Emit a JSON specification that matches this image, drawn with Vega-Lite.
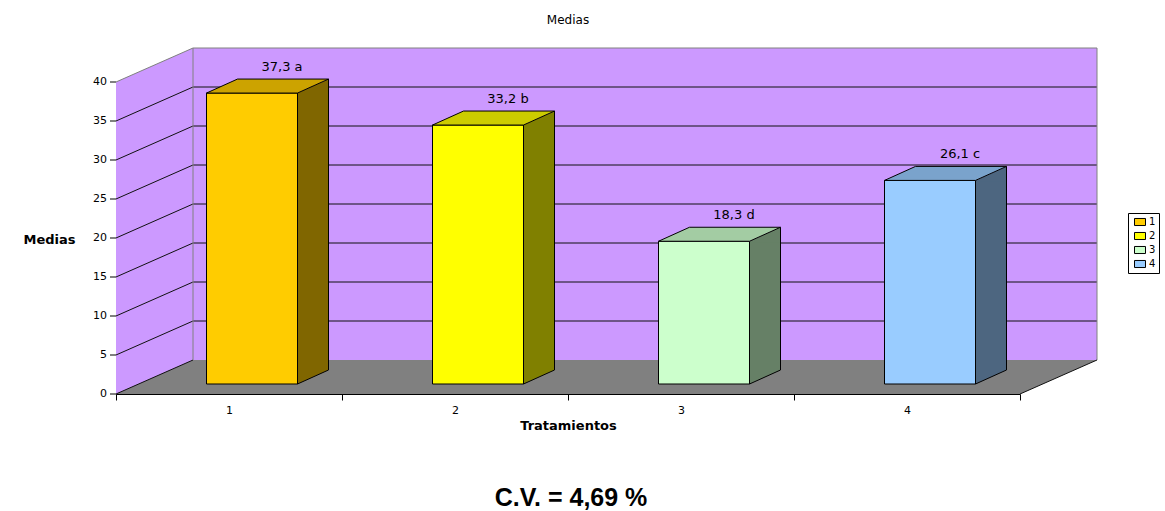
{
  "$schema": "https://vega.github.io/schema/vega-lite/v6.json",
  "width": 904,
  "height": 312,
  "autosize": {"type": "none"},
  "padding": {"left": 116, "top": 82, "right": 145, "bottom": 117},
  "background": "white",
  "title": {"text": "Medias", "font": "DejaVu Sans", "fontSize": 12, "fontWeight": "normal", "color": "black", "anchor": "middle", "frame": "group", "offset": 21},
  "datasets": {
    "medias": [
      {"Tratamiento": 1, "Media": 37.3, "Letra": "a"},
      {"Tratamiento": 2, "Media": 33.2, "Letra": "b"},
      {"Tratamiento": 3, "Media": 18.3, "Letra": "d"},
      {"Tratamiento": 4, "Media": 26.1, "Letra": "c"}
    ],
    "niveles": [
      {"nivel": 0}, {"nivel": 5}, {"nivel": 10}, {"nivel": 15},
      {"nivel": 20}, {"nivel": 25}, {"nivel": 30}, {"nivel": 35}, {"nivel": 40}
    ],
    "marco": [{"cv": "C.V. = 4,69 %"}]
  },
  "layer": [
    {
      "description": "left wall; also carries both axes",
      "data": {"name": "marco"},
      "mark": {"type": "rect", "fill": "#CC99FF", "x2Offset": 77},
      "encoding": {
        "x": {
          "datum": 0.5, "type": "quantitative",
          "scale": {"domain": [0.5, 4.5], "zero": false, "nice": false, "padding": 0},
          "axis": {
            "title": "Tratamientos",
            "values": [0.5, 1.5, 2.5, 3.5, 4.5],
            "labelExpr": "datum.value < 4 ? format(datum.value + 0.5, 'd') : ''",
            "labelOffset": 113, "labelFlush": false, "labelOverlap": false, "labelBound": false,
            "tickSize": 6, "labelPadding": 4, "titlePadding": 4, "grid": false
          }
        },
        "x2": {"datum": 0.5},
        "y": {
          "datum": 0, "type": "quantitative",
          "scale": {"domain": [0, 40], "nice": false},
          "axis": {
            "title": "Medias", "labels": false, "ticks": false, "grid": false,
            "titleAngle": 0, "titleAlign": "right", "titleBaseline": "middle", "titleX": -41, "titleY": 157
          }
        },
        "y2": {"datum": 40}
      }
    },
    {
      "description": "left wall, upper corner",
      "data": {"name": "marco"},
      "mark": {"type": "point", "shape": "M0,0L77,-34L77,1L0,1Z", "size": 4, "filled": true, "fill": "#CC99FF", "opacity": 1, "strokeWidth": 0},
      "encoding": {
        "x": {"datum": 0.5, "type": "quantitative"},
        "y": {"datum": 40, "type": "quantitative"}
      }
    },
    {
      "description": "back wall",
      "data": {"name": "marco"},
      "mark": {"type": "rect", "fill": "#CC99FF", "xOffset": 77, "x2Offset": 77, "yOffset": -34, "y2Offset": -34},
      "encoding": {
        "x": {"datum": 0.5, "type": "quantitative"},
        "x2": {"datum": 4.5},
        "y": {"datum": 0, "type": "quantitative"},
        "y2": {"datum": 40}
      }
    },
    {
      "description": "floor",
      "data": {"name": "marco"},
      "mark": {"type": "rect", "fill": "#808080", "xOffset": 77, "y2Offset": -34},
      "encoding": {
        "x": {"datum": 0.5, "type": "quantitative"},
        "x2": {"datum": 4.5},
        "y": {"datum": 0, "type": "quantitative"},
        "y2": {"datum": 0}
      }
    },
    {
      "data": {"name": "marco"},
      "mark": {"type": "point", "shape": "M0,0L77,-34L78,-34L78,0Z", "size": 4, "filled": true, "fill": "#808080", "opacity": 1, "strokeWidth": 0},
      "encoding": {
        "x": {"datum": 0.5, "type": "quantitative"},
        "y": {"datum": 0, "type": "quantitative"}
      }
    },
    {
      "data": {"name": "marco"},
      "mark": {"type": "point", "shape": "M-1,0L0,0L77,-34L-1,-34Z", "size": 4, "filled": true, "fill": "#808080", "opacity": 1, "strokeWidth": 0},
      "encoding": {
        "x": {"datum": 4.5, "type": "quantitative"},
        "y": {"datum": 0, "type": "quantitative"}
      }
    },
    {
      "description": "gridlines on the back wall",
      "data": {"name": "niveles"},
      "transform": [{"filter": "datum.nivel > 0 && datum.nivel < 40"}],
      "mark": {"type": "rule", "color": "#111111", "strokeWidth": 1, "xOffset": 77, "x2Offset": 77, "yOffset": -34},
      "encoding": {
        "x": {"datum": 0.5, "type": "quantitative"},
        "x2": {"datum": 4.5},
        "y": {"field": "nivel", "type": "quantitative"}
      }
    },
    {
      "description": "gridlines on the left wall",
      "data": {"name": "niveles"},
      "transform": [{"filter": "datum.nivel < 40"}],
      "mark": {"type": "rule", "color": "#111111", "strokeWidth": 1, "x2Offset": 77, "y2Offset": -34},
      "encoding": {
        "x": {"datum": 0.5, "type": "quantitative"},
        "x2": {"datum": 0.5},
        "y": {"field": "nivel", "type": "quantitative"},
        "y2": {"field": "nivel"}
      }
    },
    {
      "description": "value-axis ticks",
      "data": {"name": "niveles"},
      "mark": {"type": "rule", "color": "black", "strokeWidth": 1, "xOffset": -6},
      "encoding": {
        "x": {"datum": 0.5, "type": "quantitative"},
        "x2": {"datum": 0.5},
        "y": {"field": "nivel", "type": "quantitative"}
      }
    },
    {
      "description": "value-axis labels",
      "data": {"name": "niveles"},
      "mark": {"type": "text", "font": "DejaVu Sans", "fontSize": 11, "color": "black", "align": "right", "baseline": "middle", "dx": -9},
      "encoding": {
        "x": {"datum": 0.5, "type": "quantitative"},
        "y": {"field": "nivel", "type": "quantitative"},
        "text": {"field": "nivel", "type": "quantitative", "format": "d"}
      }
    },
    {
      "data": {"name": "marco"},
      "mark": {"type": "rule", "color": "#808080", "strokeWidth": 1, "x2Offset": 77, "y2Offset": -34},
      "encoding": {
        "x": {"datum": 0.5, "type": "quantitative"},
        "x2": {"datum": 0.5},
        "y": {"datum": 40, "type": "quantitative"},
        "y2": {"datum": 40}
      }
    },
    {
      "data": {"name": "marco"},
      "mark": {"type": "rule", "color": "#808080", "strokeWidth": 1, "xOffset": 77, "yOffset": -34, "y2Offset": -34},
      "encoding": {
        "x": {"datum": 0.5, "type": "quantitative"},
        "y": {"datum": 0, "type": "quantitative"},
        "y2": {"datum": 40}
      }
    },
    {
      "data": {"name": "marco"},
      "mark": {"type": "rule", "color": "#808080", "strokeWidth": 1, "xOffset": 77, "yOffset": -34, "y2Offset": -34},
      "encoding": {
        "x": {"datum": 4.5, "type": "quantitative"},
        "y": {"datum": 0, "type": "quantitative"},
        "y2": {"datum": 40}
      }
    },
    {
      "data": {"name": "marco"},
      "mark": {"type": "rule", "color": "#808080", "strokeWidth": 1, "xOffset": 77, "x2Offset": 77, "yOffset": -34},
      "encoding": {
        "x": {"datum": 0.5, "type": "quantitative"},
        "x2": {"datum": 4.5},
        "y": {"datum": 40, "type": "quantitative"}
      }
    },
    {
      "description": "right edge of the floor",
      "data": {"name": "marco"},
      "mark": {"type": "rule", "color": "#111111", "strokeWidth": 1, "x2Offset": 77, "y2Offset": -34},
      "encoding": {
        "x": {"datum": 4.5, "type": "quantitative"},
        "x2": {"datum": 4.5},
        "y": {"datum": 0, "type": "quantitative"},
        "y2": {"datum": 0}
      }
    },
    {
      "description": "bar sides",
      "data": {"name": "medias"},
      "mark": {"type": "bar", "width": 31, "xOffset": 84, "yOffset": -10, "y2Offset": -24, "strokeWidth": 0},
      "encoding": {
        "x": {"field": "Tratamiento", "type": "quantitative"},
        "y": {"field": "Media", "type": "quantitative"},
        "y2": {"datum": 0},
        "color": {"field": "Tratamiento", "type": "nominal", "scale": {"domain": [1, 2, 3, 4], "range": ["#806600", "#808000", "#668066", "#4D6680"]}, "legend": null}
      }
    },
    {
      "data": {"name": "medias"},
      "mark": {"type": "point", "shape": "M68.5,-10L99.5,-24L99.5,-9L68.5,-9Z", "size": 4, "filled": true, "opacity": 1, "strokeWidth": 0},
      "encoding": {
        "x": {"field": "Tratamiento", "type": "quantitative"},
        "y": {"field": "Media", "type": "quantitative"},
        "color": {"field": "Tratamiento", "type": "nominal", "scale": {"domain": [1, 2, 3, 4], "range": ["#806600", "#808000", "#668066", "#4D6680"]}, "legend": null}
      }
    },
    {
      "data": {"name": "medias"},
      "mark": {"type": "point", "shape": "M68.5,-25L99.5,-25L99.5,-24L68.5,-10Z", "size": 4, "filled": true, "opacity": 1, "strokeWidth": 0},
      "encoding": {
        "x": {"field": "Tratamiento", "type": "quantitative"},
        "y": {"datum": 0, "type": "quantitative"},
        "color": {"field": "Tratamiento", "type": "nominal", "scale": {"domain": [1, 2, 3, 4], "range": ["#806600", "#808000", "#668066", "#4D6680"]}, "legend": null}
      }
    },
    {
      "description": "bar fronts",
      "data": {"name": "medias"},
      "mark": {"type": "bar", "width": 91, "xOffset": 23, "yOffset": -10, "y2Offset": -10, "stroke": "black", "strokeWidth": 1},
      "encoding": {
        "x": {"field": "Tratamiento", "type": "quantitative"},
        "y": {"field": "Media", "type": "quantitative"},
        "y2": {"datum": 0},
        "color": {
          "field": "Tratamiento", "type": "nominal",
          "scale": {"domain": [1, 2, 3, 4], "range": ["#FFCC00", "#FFFF00", "#CCFFCC", "#99CCFF"]},
          "legend": {
            "orient": "none", "legendX": 1012, "legendY": 131, "title": null,
            "padding": 3, "strokeColor": "black", "fillColor": "white",
            "symbolType": "M-1,-0.64H1V0.64H-1Z", "symbolSize": 121,
            "symbolStrokeColor": "black", "symbolStrokeWidth": 1, "symbolOffset": 3,
            "labelFont": "DejaVu Sans", "labelFontSize": 10, "labelColor": "black", "labelOffset": 3,
            "rowPadding": 2
          }
        }
      }
    },
    {
      "description": "bar tops",
      "data": {"name": "medias"},
      "mark": {"type": "point", "shape": "M-22.5,-10L68.5,-10L99.5,-24L8.5,-24Z", "size": 4, "filled": true, "opacity": 1, "stroke": "black", "strokeWidth": 1},
      "encoding": {
        "x": {"field": "Tratamiento", "type": "quantitative"},
        "y": {"field": "Media", "type": "quantitative"},
        "color": {"field": "Tratamiento", "type": "nominal", "scale": {"domain": [1, 2, 3, 4], "range": ["#CCA300", "#CCCC00", "#A3CCA3", "#7AA3CC"]}, "legend": null}
      }
    },
    {
      "data": {"name": "medias"},
      "mark": {"type": "rule", "color": "black", "strokeWidth": 1, "xOffset": 99.5, "yOffset": -24, "y2Offset": -24},
      "encoding": {
        "x": {"field": "Tratamiento", "type": "quantitative"},
        "y": {"field": "Media", "type": "quantitative"},
        "y2": {"datum": 0}
      }
    },
    {
      "data": {"name": "medias"},
      "mark": {"type": "point", "shape": "M68.5,-10L99.5,-24", "size": 4, "filled": false, "opacity": 1, "color": "black", "strokeWidth": 1},
      "encoding": {
        "x": {"field": "Tratamiento", "type": "quantitative"},
        "y": {"datum": 0, "type": "quantitative"}
      }
    },
    {
      "description": "value labels",
      "data": {"name": "medias"},
      "mark": {
        "type": "text", "font": "DejaVu Sans", "fontSize": 13, "color": "black",
        "align": "center", "baseline": "middle", "dx": 53, "dy": -36,
        "text": {"expr": "replace(format(datum.Media, '.1f'), '.', ',') + ' ' + datum.Letra"}
      },
      "encoding": {
        "x": {"field": "Tratamiento", "type": "quantitative"},
        "y": {"field": "Media", "type": "quantitative"}
      }
    },
    {
      "data": {"name": "marco"},
      "mark": {"type": "text", "font": "Liberation Sans", "fontSize": 25, "fontWeight": "bold", "color": "black", "align": "center", "baseline": "middle", "dx": 3, "dy": 104},
      "encoding": {
        "x": {"datum": 2.5, "type": "quantitative"},
        "y": {"datum": 0, "type": "quantitative"},
        "text": {"field": "cv"}
      }
    }
  ],
  "resolve": {"scale": {"color": "independent"}},
  "config": {
    "view": {"stroke": null},
    "font": "DejaVu Sans",
    "scale": {"continuousPadding": 0},
    "axis": {
      "domainColor": "black", "tickColor": "black", "labelColor": "black", "titleColor": "black",
      "labelFont": "DejaVu Sans", "labelFontSize": 11, "titleFont": "DejaVu Sans", "titleFontSize": 13,
      "titleFontWeight": "bold", "zindex": 1, "domainWidth": 1, "tickWidth": 1
    }
  }
}
